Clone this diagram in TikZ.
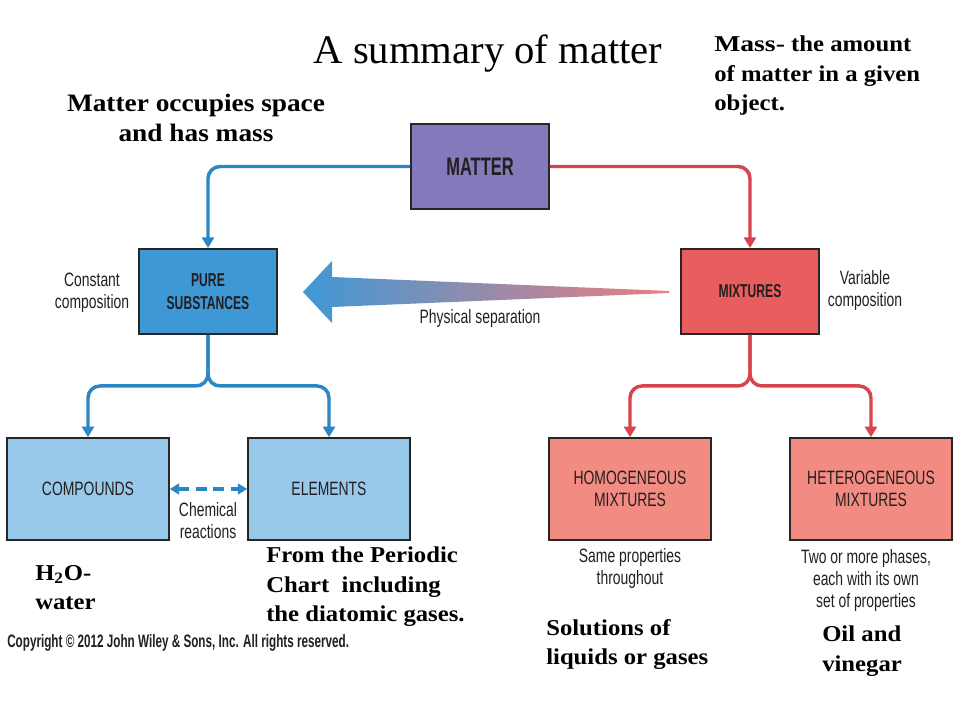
\documentclass[tikz,border=0pt]{standalone}
\usepackage{fontspec}
\setmainfont{Liberation Serif}
\newfontfamily\cond[FakeStretch=0.72]{Liberation Sans}
\newfontfamily\condb[FakeStretch=0.65]{Liberation Sans}
\newfontfamily\wideserif[FakeStretch=1.09]{Liberation Serif}
\usetikzlibrary{arrows.meta}
\definecolor{cmatter}{HTML}{8479BA}
\definecolor{cpure}{HTML}{3F98D6}
\definecolor{cmix}{HTML}{E85E5E}
\definecolor{clblue}{HTML}{98C8EA}
\definecolor{csalmon}{HTML}{F28C82}
\definecolor{lblue}{HTML}{2B86C5}
\definecolor{lred}{HTML}{D9434B}
\definecolor{ctext}{HTML}{231F20}
\tikzset{
  box/.style={draw=black!85, line width=1.2pt, inner sep=0pt, align=center, text=ctext},
  bigbox/.style={box, minimum width=103.5pt, minimum height=64pt},
  smallbox/.style={box, minimum width=121.5pt, minimum height=76.5pt, font=\cond\fontsize{14.5}{17}\selectfont},
  conn/.style={line width=2.6pt, rounded corners=9pt, -{Triangle[length=8pt,width=9pt]}},
  blueconn/.style={conn, draw=lblue},
  redconn/.style={conn, draw=lred},
  note/.style={align=center, text=ctext, font=\cond\fontsize{14.5}{16.5}\selectfont},
  bold/.style={align=left, text=black, font=\wideserif\bfseries\fontsize{17}{21.8}\selectfont, inner sep=0pt}
}
\begin{document}
\begin{tikzpicture}[x=0.75pt,y=-0.75pt]
\useasboundingbox (0,0) rectangle (960,720);
\fill[white] (0,0) rectangle (960,720);

% title and notes
\node[font=\fontsize{30.5}{36}\selectfont] (title) at (488,54) {A summary of matter};
\node[bold, align=center, font=\wideserif\bfseries\fontsize{18.8}{22.5}\selectfont] (occ) at (196,118) {Matter occupies space\\and has mass};
\node[bold, anchor=north west] (mass) at (714,36) {\scalebox{1.12}[1]{Mass-} the amount\\of matter in a given\\object.};

% boxes
\node[bigbox, fill=cmatter, font=\condb\bfseries\fontsize{19}{22}\selectfont] (matter) at (480,166.5) {MATTER};
\node[bigbox, fill=cpure, font=\condb\bfseries\fontsize{14}{17}\selectfont] (pure) at (208,291.5) {PURE\\SUBSTANCES};
\node[bigbox, fill=cmix, font=\condb\bfseries\fontsize{14}{17}\selectfont] (mix) at (750,291.5) {MIXTURES};
\node[smallbox, fill=clblue] (comp) at (88,489) {COMPOUNDS};
\node[smallbox, fill=clblue] (elem) at (329,489) {ELEMENTS};
\node[smallbox, fill=csalmon] (homo) at (630,489) {HOMOGENEOUS\\MIXTURES};
\node[smallbox, fill=csalmon] (hetero) at (871,489) {HETEROGENEOUS\\MIXTURES};

% connectors
\draw[blueconn] (matter.west) -| (pure.north);
\draw[redconn] (matter.east) -| (mix.north);
\draw[blueconn] (pure.south) -- ++(0,51) -| (comp.north);
\draw[blueconn] (pure.south) -- ++(0,51) -| (elem.north);
\draw[redconn] (mix.south) -- ++(0,51) -| (homo.north);
\draw[redconn] (mix.south) -- ++(0,51) -| (hetero.north);
\draw[lblue, line width=2.4pt, dash pattern=on 8pt off 5pt, {Triangle[length=7pt,width=8pt]}-{Triangle[length=7pt,width=8pt]}] (comp.east) -- (elem.west);

% physical separation arrow
\coordinate (ptip) at (303,292);
\coordinate (ptail) at (669,291);
\shade[left color=cpure, right color=cmix!80!white]
  (ptip) -- (332,261) -- (332,277) -- (ptail) -- (669,293) -- (332,307) -- (332,323) -- cycle;

% side notes
\node[note] (const) at (92,293) {Constant\\composition};
\node[note] (var) at (865,291) {Variable\\composition};
\node[note] (phys) at (480,319) {Physical separation};
\node[note] (chem) at (208,521) {Chemical\\reactions};
\node[note] (same) at (630,568) {Same properties\\throughout};
\node[note] (two) at (866,580) {Two or more phases,\\each with its own\\set of properties};

% bold notes
\node[bold, anchor=north west] (water) at (35,565) {H\textsubscript{2}O-\\water};
\node[bold, anchor=north west] (period) at (266,547) {From the Periodic\\Chart\ \ including\\the diatomic gases.};
\node[bold, anchor=north west, font=\wideserif\bfseries\fontsize{17}{22}\selectfont] (sol) at (546,619) {Solutions of\\liquids or gases};
\node[bold, anchor=north west, font=\wideserif\bfseries\fontsize{17}{22.5}\selectfont] (oil) at (822,626) {Oil and\\vinegar};

\node[anchor=west, font=\condb\bfseries\fontsize{13.5}{16}\selectfont, text=ctext, inner sep=0pt] (copy) at (7,643) {Copyright \textcopyright{} 2012 John Wiley \& Sons, Inc. All rights reserved.};
\end{tikzpicture}
\end{document}
